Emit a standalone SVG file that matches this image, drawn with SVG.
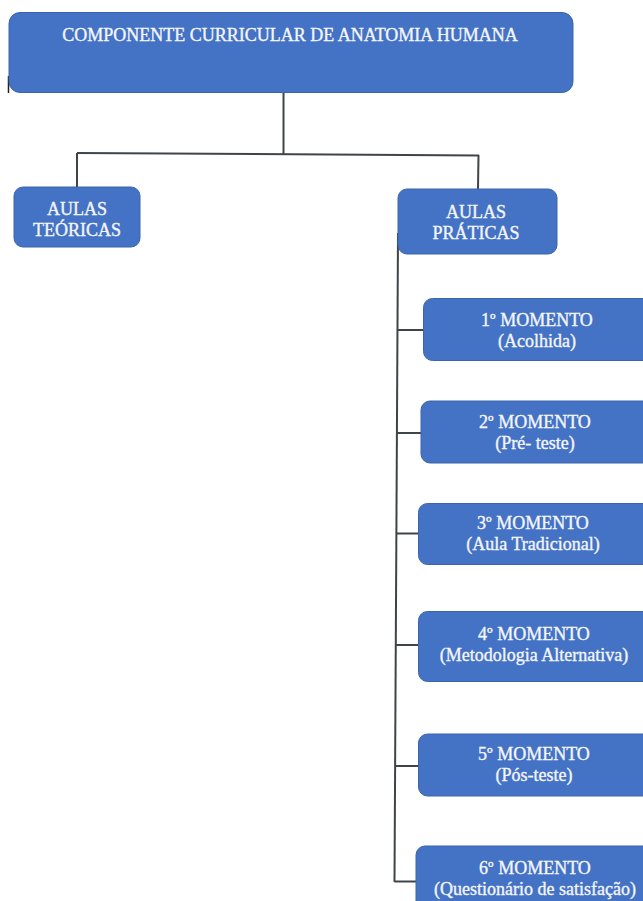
<svg xmlns="http://www.w3.org/2000/svg" width="643" height="901" viewBox="0 0 643 901">
<style>
.box{fill:#4472C4;stroke:#3a64ae;stroke-width:1}
.t{font-family:"Liberation Serif","Times New Roman",serif;font-size:18px;fill:#f4f6fa;stroke:#f4f6fa;stroke-width:0.35;text-anchor:middle}
.c{stroke:#3f4449;stroke-width:2;fill:none}
</style>
<rect width="643" height="901" fill="#ffffff"/>
<g id="connectors">
<line class="c" x1="283.5" y1="93" x2="283.5" y2="154"/>
<line class="c" x1="77" y1="153" x2="479" y2="155.5"/>
<line class="c" x1="77" y1="153" x2="77" y2="187"/>
<line class="c" x1="478.5" y1="155" x2="478" y2="189"/>
<line class="c" x1="398" y1="233" x2="394.5" y2="882"/>
<line class="c" x1="397" y1="330" x2="424" y2="330"/>
<line class="c" x1="396.5" y1="433" x2="421" y2="433"/>
<line class="c" x1="396" y1="533.5" x2="419" y2="533.5"/>
<line class="c" x1="395.5" y1="645" x2="419" y2="645"/>
<line class="c" x1="395" y1="766" x2="419" y2="766"/>
<line class="c" x1="394.5" y1="881.5" x2="416" y2="881.5"/>
<line x1="8.5" y1="76" x2="8.5" y2="93" stroke="#222" stroke-width="1.5"/>
</g>
<g id="root">
<rect class="box" x="9" y="12.5" width="564" height="80" rx="11"/>
<text class="t" x="290" y="40.5">COMPONENTE CURRICULAR DE ANATOMIA HUMANA</text>
</g>
<g id="teoricas">
<rect class="box" x="14" y="187" width="126" height="60" rx="9"/>
<text class="t" x="77" y="215">AULAS</text>
<text class="t" x="77" y="236">TEÓRICAS</text>
</g>
<g id="praticas">
<rect class="box" x="398" y="189" width="159" height="65" rx="9"/>
<text class="t" x="476" y="218">AULAS</text>
<text class="t" x="476" y="239">PRÁTICAS</text>
</g>
<g id="m1">
<rect class="box" x="423.5" y="298.5" width="240" height="62" rx="9"/>
<text class="t" x="537" y="326">1º MOMENTO</text>
<text class="t" x="537" y="347">(Acolhida)</text>
</g>
<g id="m2">
<rect class="box" x="421" y="401" width="240" height="62" rx="9"/>
<text class="t" x="535" y="428">2º MOMENTO</text>
<text class="t" x="535" y="449">(Pré- teste)</text>
</g>
<g id="m3">
<rect class="box" x="418.5" y="503.5" width="240" height="61" rx="9"/>
<text class="t" x="533" y="528.5">3º MOMENTO</text>
<text class="t" x="533" y="550">(Aula Tradicional)</text>
</g>
<g id="m4">
<rect class="box" x="418.5" y="611.5" width="240" height="70" rx="9"/>
<text class="t" x="534" y="639.5">4º MOMENTO</text>
<text class="t" x="534" y="661">(Metodologia Alternativa)</text>
</g>
<g id="m5">
<rect class="box" x="418.5" y="734" width="240" height="62" rx="9"/>
<text class="t" x="534" y="759.5">5º MOMENTO</text>
<text class="t" x="534" y="781">(Pós-teste)</text>
</g>
<g id="m6">
<rect class="box" x="416" y="846" width="240" height="80" rx="9"/>
<text class="t" x="535" y="874">6º MOMENTO</text>
<text class="t" x="535" y="895">(Questionário de satisfação)</text>
</g>
</svg>
